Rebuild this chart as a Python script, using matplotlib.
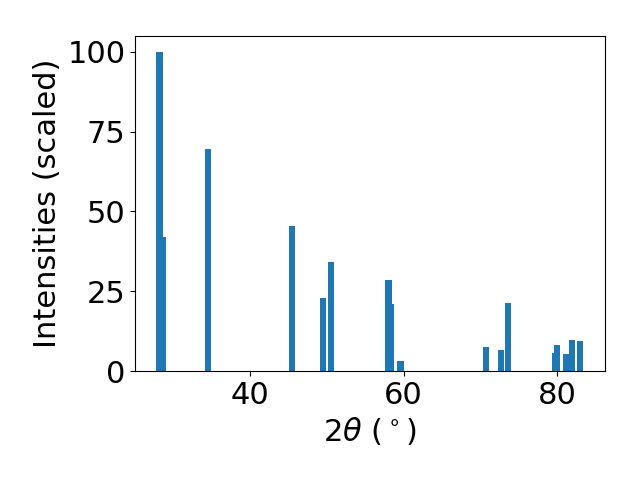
import matplotlib
matplotlib.use("Agg")
import matplotlib.pyplot as plt

# peak positions (2 theta, degrees) and scaled intensities
two_theta = [28.17, 28.68, 34.46, 45.46, 49.52, 50.57, 58.03, 58.30, 59.60,
             70.74, 72.70, 73.63, 79.78, 80.04, 81.22, 82.00, 83.05]
intensities = [100.0, 42.0, 69.6, 45.4, 22.9, 34.2, 28.5, 21.0, 3.1,
               7.5, 6.6, 21.3, 5.6, 8.2, 5.3, 9.7, 9.4]

plt.rcParams['font.size'] = 22
fig, ax = plt.subplots(figsize=(6.4, 4.8), dpi=100)
ax.bar(two_theta, intensities, width=0.8)
ax.set_xlabel(r'$2\theta$ ($^\circ$)')
ax.set_ylabel('Intensities (scaled)')
ax.set_yticks([0, 25, 50, 75, 100])
fig.subplots_adjust(left=0.211, right=0.945, top=0.925, bottom=0.227)
fig.savefig('out.png')
